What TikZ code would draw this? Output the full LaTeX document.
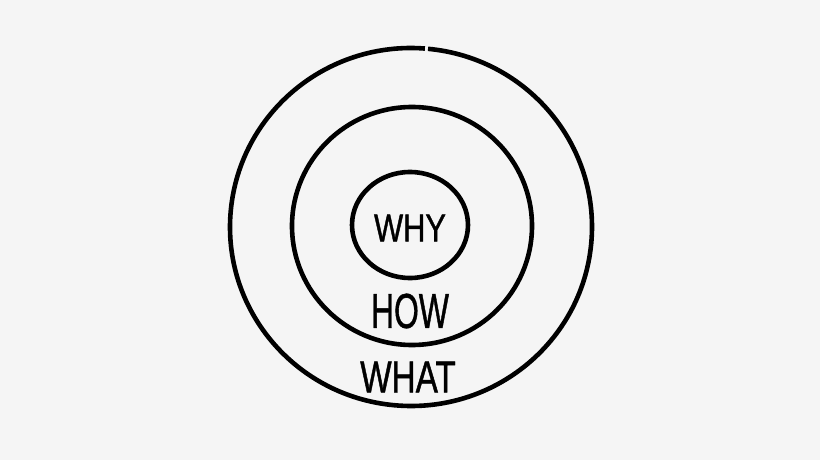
\documentclass[tikz,border=0pt]{standalone}
\usepackage{fontspec}
\setmainfont{Liberation Sans}[FakeBold=1.2]
\usepackage{graphicx}
\usetikzlibrary{shapes.geometric}
\definecolor{bg}{RGB}{245,245,245}
\tikzset{
  ring/.style={draw=black, line width=4.6pt},
  lbl/.style={inner sep=0pt, text=black},
}
\begin{document}
\begin{tikzpicture}[x=1pt,y=-1pt]
\fill[bg] (0,0) rectangle (820,460);
\useasboundingbox (0,0) rectangle (820,460);
% outer ring with small gap at top
\coordinate (outer) at (411,227);
\draw[ring] (outer) ++(275.4:181 and 179) arc[start angle=275.4, end angle=634.4, x radius=181, y radius=179];
\node[ring, ellipse, minimum width=240pt, minimum height=238pt, inner sep=0pt] (middle) at (412,226) {};
\node[ring, ellipse, minimum width=116pt, minimum height=106pt, inner sep=0pt] (inner) at (410,225) {};
\node[lbl] (why) at (410,228) {\scalebox{0.79}[1]{\fontsize{39}{39}\selectfont WHY}};
\node[lbl] (how) at (410,311) {\scalebox{0.65}[1]{\fontsize{49}{49}\selectfont HOW}};
\node[lbl] (what) at (408,377) {\scalebox{0.745}[1]{\fontsize{44.7}{44.7}\selectfont WHAT}};
\end{tikzpicture}
\end{document}
